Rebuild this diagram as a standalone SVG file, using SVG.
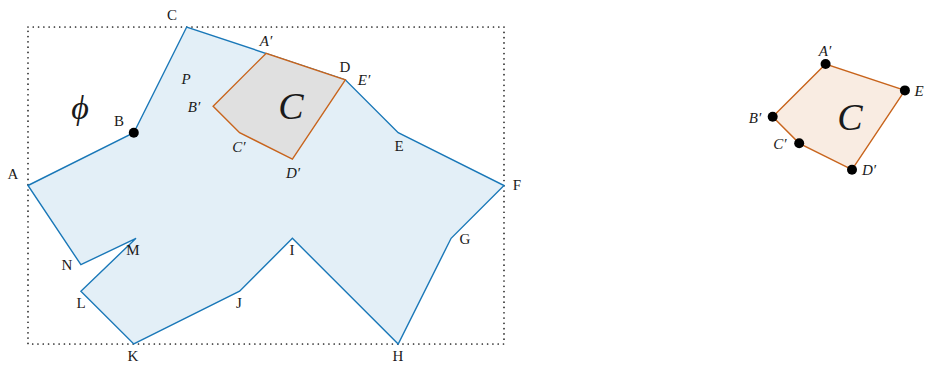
<svg xmlns="http://www.w3.org/2000/svg" width="928" height="366" viewBox="0 0 928 366">
<style>
.lb{font-family:"Liberation Serif","DejaVu Serif",serif;font-size:15px;fill:#1a1a1a;text-anchor:middle;dominant-baseline:central}
.it{font-style:italic}
.big{font-family:"Liberation Serif","DejaVu Serif",serif;font-style:italic;font-size:38px;fill:#1a1a1a;text-anchor:middle;dominant-baseline:central}
.pe{fill:#e3eff7;stroke:#1a78b8;stroke-width:1.4;stroke-linejoin:miter}
.ce{fill:#e0e0e0;stroke:#c8641c;stroke-width:1.4}
.cr{fill:#f9ece2;stroke:#c8641c;stroke-width:1.4}
.dot{fill:#000}
</style>
<rect x="28" y="27" width="476" height="317" fill="none" stroke="#222" stroke-width="1.7" stroke-dasharray="0 5.29" stroke-linecap="round"/>
<g id="P">
<polygon class="pe" points="28,185.5 133.8,132.7 186.7,27 345.3,79.8 398.2,132.7 504,185.5 451.1,238.3 398.2,344 292.4,238.3 239.6,291.2 133.8,344 80.9,291.2 136,238.3 80.9,264.7"/>
<circle class="dot" cx="133.8" cy="132.7" r="5"/>
</g>
<g id="Cleft">
<polygon class="ce" points="266,53.4 213.1,106.2 239.6,132.7 292.4,159.1 345.3,79.8"/>
</g>
<g id="Cright">
<polygon class="cr" points="825.6,64 772.7,116.8 799.2,143.3 852,169.7 904.9,90.4"/>
<circle class="dot" cx="825.6" cy="64" r="5"/>
<circle class="dot" cx="772.7" cy="116.8" r="5"/>
<circle class="dot" cx="799.2" cy="143.3" r="5"/>
<circle class="dot" cx="852" cy="169.7" r="5"/>
<circle class="dot" cx="904.9" cy="90.4" r="5"/>
</g>
<g id="labels">
<text class="lb" x="172" y="15">C</text>
<text class="lb" x="13" y="174">A</text>
<text class="lb" x="119" y="121">B</text>
<text class="lb" x="345" y="67">D</text>
<text class="lb" x="399" y="146">E</text>
<text class="lb" x="517" y="185">F</text>
<text class="lb" x="465" y="239">G</text>
<text class="lb" x="398" y="356">H</text>
<text class="lb" x="292" y="250">I</text>
<text class="lb" x="239" y="303">J</text>
<text class="lb" x="133" y="356">K</text>
<text class="lb" x="81" y="303">L</text>
<text class="lb" x="133" y="250">M</text>
<text class="lb" x="67" y="265">N</text>
<text class="lb it" x="186" y="79">P</text>
<text class="lb it" x="266" y="41">A′</text>
<text class="lb it" x="194" y="107">B′</text>
<text class="lb it" x="239" y="147">C′</text>
<text class="lb it" x="293" y="173">D′</text>
<text class="lb it" x="364" y="80">E′</text>
<text class="big" x="291" y="106">C</text>
<text class="big" x="80" y="107" style="font-size:34px">ϕ</text>
<text class="lb it" x="825" y="51">A′</text>
<text class="lb it" x="919" y="91">E</text>
<text class="lb it" x="755" y="118">B′</text>
<text class="lb it" x="780" y="144">C′</text>
<text class="lb it" x="869" y="170">D′</text>
<text class="big" x="850" y="117">C</text>
</g>
</svg>
